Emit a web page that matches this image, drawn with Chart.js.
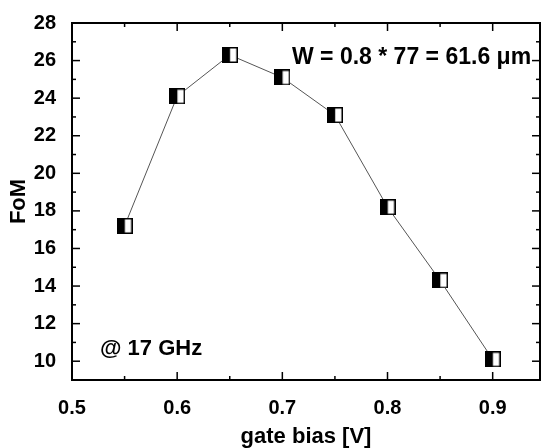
<!DOCTYPE html>
<html>
<head>
<meta charset="utf-8">
<script src="https://cdn.jsdelivr.net/npm/chart.js@4.4.1/dist/chart.umd.min.js"></script>
<style>
	body { margin: 0; background: #fff; }
	#wrap { width: 546px; height: 448px; }
</style>
</head>
<body>
<div id="wrap"><canvas id="fomChart" width="546" height="448"></canvas></div>
<script>
const gateBias = [0.55, 0.6, 0.65, 0.7, 0.75, 0.8, 0.85, 0.9];
const fom = [17.2, 24.1, 26.3, 25.1, 23.1, 18.2, 14.3, 10.1];
const xTicks = [0.5, 0.6, 0.7, 0.8, 0.9];
const yTicks = [10, 12, 14, 16, 18, 20, 22, 24, 26, 28];

const FONT = "'Liberation Sans', Arial, sans-serif";

// half filled square marker
const marker = document.createElement("canvas");
marker.width = 16;
marker.height = 16;
const mctx = marker.getContext("2d");
mctx.fillStyle = "#fff";
mctx.fillRect(0.75, 0.75, 14.5, 14.5);
mctx.fillStyle = "#000";
mctx.fillRect(0.75, 0.75, 7.5, 14.5);
mctx.strokeStyle = "#000";
mctx.lineWidth = 1.5;
mctx.strokeRect(0.75, 0.75, 14.5, 14.5);

const frameAndTicks = {
	id: "frameAndTicks",
	beforeDatasetsDraw(chart) {
		const { ctx, chartArea: a, scales } = chart;
		const x = scales.x;
		const y = scales.y;
		ctx.save();
		ctx.strokeStyle = "#000";
		ctx.lineWidth = 1.5;
		const tick = (x1, y1, x2, y2) => {
			ctx.beginPath();
			ctx.moveTo(x1, y1);
			ctx.lineTo(x2, y2);
			ctx.stroke();
		};
		xTicks.forEach((v) => {
			const px = x.getPixelForValue(v);
			tick(px, a.bottom, px, a.bottom - 8);
			tick(px, a.top, px, a.top + 8);
			const pm = x.getPixelForValue(v + 0.05);
			if (pm < a.right - 2) {
				tick(pm, a.bottom, pm, a.bottom - 4);
				tick(pm, a.top, pm, a.top + 4);
			}
		});
		yTicks.forEach((v) => {
			const py = y.getPixelForValue(v);
			tick(a.left, py, a.left + 8, py);
			tick(a.right, py, a.right - 8, py);
			const pm = y.getPixelForValue(v - 1);
			if (pm < a.bottom - 2) {
				tick(a.left, pm, a.left + 4, pm);
				tick(a.right, pm, a.right - 4, pm);
			}
		});
		ctx.lineWidth = 2;
		ctx.strokeRect(a.left, a.top, a.right - a.left, a.bottom - a.top);

		ctx.fillStyle = "#000";
		ctx.textAlign = "left";
		ctx.textBaseline = "alphabetic";
		ctx.font = "bold 23px " + FONT;
		ctx.fillText("W = 0.8 * 77 = 61.6 \u03bcm", 292, 64);
		ctx.font = "bold 22px " + FONT;
		ctx.fillText("@ 17 GHz", 100, 355);
		ctx.restore();
	},
};

new Chart(document.getElementById("fomChart"), {
	type: "line",
	data: {
		datasets: [
			{
				data: gateBias.map((g, i) => ({ x: g, y: fom[i] })),
				borderColor: "#555",
				borderWidth: 1,
				pointStyle: marker,
				tension: 0,
			},
		],
	},
	options: {
		responsive: false,
		animation: false,
		layout: { padding: { top: 23, right: 6, left: 0, bottom: 0 } },
		plugins: { legend: { display: false }, tooltip: { enabled: false } },
		scales: {
			x: {
				type: "linear",
				min: 0.5,
				max: 0.945,
				afterBuildTicks: (s) => {
					s.ticks = xTicks.map((v) => ({ value: v }));
				},
				afterFit: (s) => {
					s.height = 68;
				},
				grid: { display: false },
				border: { display: false },
				ticks: {
					padding: 8,
					color: "#000",
					font: { family: FONT, size: 20, weight: "bold" },
					callback: (v) => v.toFixed(1),
				},
				title: {
					display: true,
					text: "gate bias [V]",
					color: "#000",
					padding: { top: 0, bottom: 0 },
					font: { family: FONT, size: 22, weight: "bold", lineHeight: 1 },
				},
			},
			y: {
				min: 9,
				max: 28,
				afterBuildTicks: (s) => {
					s.ticks = yTicks.map((v) => ({ value: v }));
				},
				afterFit: (s) => {
					s.width = 72;
				},
				grid: { display: false },
				border: { display: false },
				ticks: {
					padding: 8,
					color: "#000",
					font: { family: FONT, size: 20, weight: "bold" },
				},
				title: {
					display: true,
					text: "FoM",
					color: "#000",
					padding: { top: 8, bottom: 0 },
					font: { family: FONT, size: 22, weight: "bold", lineHeight: 1 },
				},
			},
		},
	},
	plugins: [frameAndTicks],
});
</script>
</body>
</html>
